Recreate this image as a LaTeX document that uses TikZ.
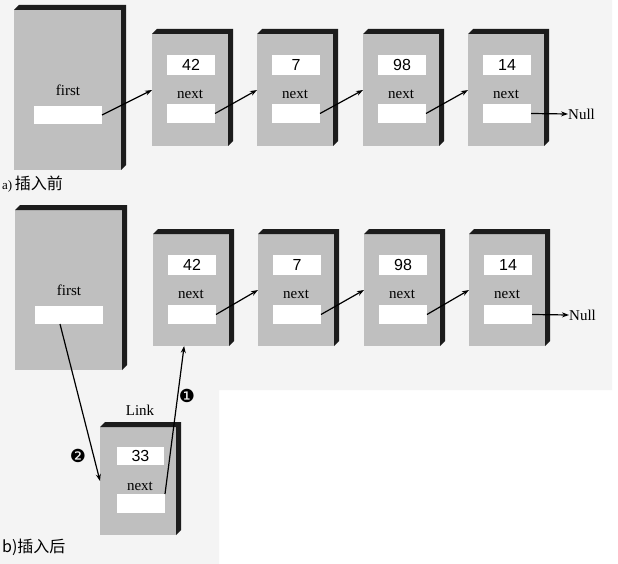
\documentclass[tikz,border=0pt]{standalone}
\usepackage{fontspec}
\setmainfont{Liberation Serif}
\newfontfamily\numfont{Liberation Sans}
\newfontfamily\cjkfont{Noto Sans CJK SC}
\newfontfamily\dingfont{DejaVu Sans}
\usetikzlibrary{arrows.meta}
\definecolor{bgpaper}{HTML}{F4F4F4}
\definecolor{facegray}{HTML}{BFBFBF}
\definecolor{edgeblack}{HTML}{1C1C1C}
\tikzset{
  face/.style={fill=facegray, draw=none, inner sep=0pt, outer sep=0pt, anchor=north west},
  field/.style={fill=white, draw=none, inner sep=0pt, outer sep=0pt, minimum width=48pt, minimum height=19pt},
  numtxt/.style={font=\numfont\fontsize{16}{16}\selectfont},
  lbl/.style={font=\fontsize{15}{15}\selectfont, inner sep=0pt},
  captxt/.style={font=\fontsize{16}{16}\selectfont, inner sep=0pt, anchor=west},
  ding/.style={font=\dingfont\fontsize{18}{18}\selectfont, inner sep=0pt},
  ptr/.style={draw=black, line width=1.2pt, -{Stealth[length=7pt,width=5pt]}},
}
\newcommand\extrude[1]{\fill[edgeblack] (#1.north west) -- ([shift={(5,-5)}]#1.north west) -- ([shift={(5,-5)}]#1.north east) -- ([shift={(5,-5)}]#1.south east) -- (#1.south east) -- (#1.north east) -- cycle;}
\begin{document}
\begin{tikzpicture}[x=1pt,y=-1pt]
\useasboundingbox (0,0) rectangle (618,564);
\fill[white] (0,0) rectangle (618,564);
\fill[bgpaper] (0,0) -- (612,0) -- (612,390) -- (219,390) -- (219,564) -- (0,564) -- cycle;

% ---------- panel a ----------
\node[face, minimum width=107pt, minimum height=160pt] (a0) at (14,10) {};
\extrude{a0}
\node[lbl] (a0t) at (68,90) {first};
\node[field, minimum width=68pt, minimum height=18pt] (af) at (68,115) {};
\foreach \i/\x/\v in {1/152/42,2/257/7,3/363/98,4/468/14} {
  \node[face, minimum width=76pt, minimum height=112pt] (a\i) at (\x,34) {};
  \extrude{a\i}
  \node[field, minimum height=20pt, numtxt] (av\i) at ({\x+39},65) {\v};
  \node[lbl] (at\i) at ({\x+38},94) {next};
  \node[field] (an\i) at ({\x+39},113.5) {};
}
\node[lbl, anchor=west] (anull) at (568,114) {Null};
\node[captxt] (acap) at (2,184) {{\fontsize{13}{13}\selectfont a)}\,{\cjkfont 插入前}};

\draw[ptr] (af.east) -- (a1.west);
\draw[ptr] (an1.east) -- (a2.west);
\draw[ptr] (an2.east) -- (a3.west);
\draw[ptr] (an3.east) -- (a4.west);
\draw[ptr] (an4.east) -- (anull.west);

% ---------- panel b ----------
\node[face, minimum width=107pt, minimum height=160pt] (b0) at (15,210) {};
\extrude{b0}
\node[lbl] (b0t) at (69,290) {first};
\node[field, minimum width=68pt, minimum height=18pt] (bf) at (69,315) {};
\foreach \i/\x/\v in {1/153/42,2/258/7,3/364/98,4/469/14} {
  \node[face, minimum width=76pt, minimum height=112pt] (b\i) at (\x,234) {};
  \extrude{b\i}
  \node[field, minimum height=20pt, numtxt] (bv\i) at ({\x+39},265) {\v};
  \node[lbl] (bt\i) at ({\x+38},294) {next};
  \node[field] (bn\i) at ({\x+39},314.5) {};
}
\node[lbl, anchor=west] (bnull) at (569,315) {Null};

% new Link node
\node[lbl] (lklab) at (140,410) {Link};
\node[face, minimum width=76pt, minimum height=108pt] (lk) at (100,427) {};
\extrude{lk}
\node[field, minimum width=47pt, minimum height=18pt, numtxt] (lv) at (140.5,456) {33};
\node[lbl] (lt) at (140,486) {next};
\node[field] (ln) at (141,503.5) {};

\node[captxt] (bcap) at (2,547) {\cjkfont b)插入后};
\node[ding] (one) at (187,396) {❶};
\node[ding] (two) at (78,456) {❷};

\draw[ptr] (bn1.east) -- (b2.west);
\draw[ptr] (bn2.east) -- (b3.west);
\draw[ptr] (bn3.east) -- (b4.west);
\draw[ptr] (bn4.east) -- (bnull.west);
\draw[ptr] (bf.-135) -- (lk.west);
\draw[ptr] (ln.north east) -- (b1.-97);
\end{tikzpicture}
\end{document}
